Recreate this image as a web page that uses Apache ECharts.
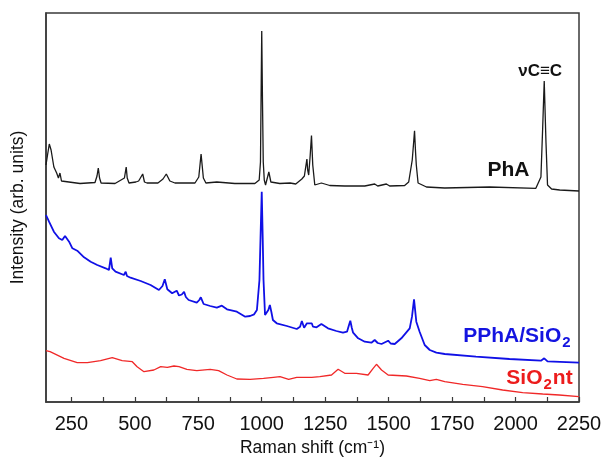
<!DOCTYPE html>
<html>
<head>
<meta charset="utf-8">
<script src="https://cdn.jsdelivr.net/npm/echarts@6/dist/echarts.min.js"></script>
<style>
html,body{margin:0;padding:0;background:#fff;}
#c{width:609px;height:462px;}
</style>
</head>
<body>
<div id="c"></div>
<script>
// Raman shift (cm-1) tick values
const xTickLabels = [250, 500, 750, 1000, 1250, 1500, 1750, 2000, 2250];
const xTickMarks = [250, 375, 500, 625, 750, 875, 1000, 1125, 1250, 1375, 1500, 1625, 1750, 1875, 2000, 2125, 2250];

// PhA spectrum [Raman shift, intensity (arb.)]
const phaData = [[150,237],[156,247],[163,258],[170,252],[181,235],[192,229],[199,224],[205,229],[211,221],[217,219],[284,218.5],[343,219.5],[351,226],[356,234],[361,224],[367,219],[422,218.5],[459,224],[466,235],[470,224],[477,219],[504,220],[515,221],[522,220],[531,228],[538,220],[548,219],[591,219],[611,223],[624,228],[638,221],[658,219],[737,219],[752,225],[761,248],[770,224],[780,219],[823,220],[894,218.5],[973,218.5],[990,222],[995,240],[998,320],[1000,371],[1003,300],[1006,240],[1010,222],[1015,217],[1028,230],[1036,220],[1040,218],[1071,218.5],[1112,219],[1134,218],[1158,223],[1168,226],[1178,243],[1181,232],[1185,227],[1191,247],[1196,266.5],[1201,237],[1209,217],[1235,219],[1268,216.5],[1327,216],[1406,216],[1445,218],[1457,216],[1491,218],[1504,216],[1563,216.5],[1579,220],[1593,242],[1598,258],[1602,271.3],[1606,250],[1609,237],[1616,219],[1649,215],[1721,214],[1898,215],[2080,213.7],[2087,215],[2100,225],[2107,275],[2113,321],[2120,259],[2126,217],[2142,213],[2174,212],[2250,211]];

// PPhA/SiO2 spectrum
const pphaData = [[150,187],[162,180.3],[181,170.3],[201,163.7],[214,162],[225,166],[231,167.7],[241,160.3],[254,153.7],[273,151.3],[300,144.7],[326,140.3],[352,137],[385,133.7],[398,132],[405,144.3],[411,133.7],[424,130.3],[457,127],[464,130.3],[469,126],[483,124.3],[523,121],[562,117],[595,112],[609,116],[618,122.7],[628,112.7],[647,108.7],[665,111.3],[674,106.5],[685,107.5],[694,110.3],[701,105],[712,102],[744,99.3],[754,102],[760,104.7],[771,98],[797,96],[823,94.3],[843,96.3],[863,92.7],[902,90.3],[935,85.3],[954,86],[970,87.7],[981,92],[991,122],[996,172],[1000,210.3],[1004,162],[1007,122],[1013,87],[1020,86],[1026,92],[1032,97],[1038,90],[1044,82],[1059,78.7],[1099,76],[1138,73],[1151,75.3],[1158,81],[1167,74.3],[1178,78.7],[1197,78.7],[1202,75.3],[1216,74.7],[1235,78],[1261,73.7],[1294,71],[1320,69.3],[1336,70.3],[1345,78],[1349,81.3],[1355,74],[1360,69.3],[1380,63.7],[1406,60.3],[1432,59.3],[1445,62],[1457,59],[1472,58],[1498,61.3],[1508,58.5],[1524,58],[1550,63.7],[1583,73.7],[1592,85.3],[1600,102.7],[1609,80.3],[1622,70.3],[1642,57],[1662,52],[1688,49.3],[1721,48],[1844,45.3],[1976,43],[2100,41.3],[2113,43.7],[2126,40.7],[2250,39.3]];

// SiO2nt spectrum
const sio2Data = [[150,51.3],[166,50.3],[221,43.7],[273,39.3],[313,39.3],[365,41.3],[411,44.3],[450,41.3],[490,40.3],[509,35.3],[536,30.3],[575,32],[602,35.3],[628,34.7],[654,36],[674,35.3],[705,32.7],[744,31.3],[797,32.7],[830,31.3],[863,27],[902,23],[954,22.7],[1007,23.7],[1046,24.7],[1072,25.3],[1106,22.7],[1138,24.7],[1197,24.7],[1229,25.3],[1275,27],[1301,32.7],[1327,28.7],[1373,28.7],[1419,27],[1439,33.7],[1452,37.7],[1472,32],[1498,27],[1570,26],[1622,23.7],[1662,21.3],[1688,22.7],[1721,20.3],[1792,17.7],[1870,15.3],[1949,12],[2028,9.3],[2107,8],[2172,7],[2250,5.3]];

const FONT = 'Liberation Sans, Arial, sans-serif';
const AX = '#3a3a3a';

const chart = echarts.init(document.getElementById('c'), null, {renderer: 'canvas'});
chart.setOption({
  animation: false,
  backgroundColor: '#fff',
  grid: {left: 46, right: 30, top: 13, bottom: 60, show: true, borderColor: AX, borderWidth: 1.5, backgroundColor: 'transparent'},
  xAxis: {
    type: 'value', min: 150, max: 2250,
    axisLine: {show: true, onZero: false, lineStyle: {color: AX, width: 1.5}},
    axisTick: {show: true, customValues: xTickMarks, inside: true, length: 5, lineStyle: {color: AX, width: 1.2}},
    axisLabel: {customValues: xTickLabels, formatter: function (v) { return String(v); }, fontSize: 20, color: '#111', margin: 12, fontFamily: FONT},
    splitLine: {show: false},
    name: 'Raman shift (cm\u207B\u00B9)', nameLocation: 'middle', nameGap: 37,
    nameTextStyle: {fontSize: 17.5, color: '#111', fontFamily: FONT}
  },
  yAxis: {
    type: 'value', min: 0, max: 389,
    axisLine: {show: true, lineStyle: {color: AX, width: 1.5}},
    axisTick: {show: false}, axisLabel: {show: false}, splitLine: {show: false},
    name: 'Intensity (arb. units)', nameLocation: 'middle', nameGap: 19,
    nameTextStyle: {fontSize: 17.5, color: '#111', fontFamily: FONT}
  },
  series: [
    {
      type: 'line', data: phaData, showSymbol: false, symbol: 'none',
      lineStyle: {color: '#1a1a1a', width: 1.3},
      markPoint: {
        symbol: 'circle', symbolSize: 0, silent: true,
        data: [
          {coord: [2055, 232], label: {show: true, position: 'left', distance: 0, formatter: 'PhA', fontSize: 21, fontWeight: 'bold', color: '#111', fontFamily: FONT}},
          {coord: [2097, 331], label: {show: true, position: 'inside', formatter: '\u03BDC\u2261C', fontSize: 17, fontWeight: 'bold', color: '#111', fontFamily: FONT}}
        ]
      }
    },
    {
      type: 'line', data: pphaData, showSymbol: false, symbol: 'none',
      lineStyle: {color: '#1010e6', width: 1.8},
      markPoint: {
        symbol: 'circle', symbolSize: 0, silent: true,
        data: [
          {coord: [2217, 66], label: {show: true, position: 'left', distance: 0, formatter: '{a|PPhA/SiO}{b|2}',
            rich: {a: {fontSize: 21, fontWeight: 'bold', color: '#1414e0', fontFamily: FONT},
                   b: {fontSize: 15, fontWeight: 'bold', color: '#1414e0', fontFamily: FONT, padding: [14, 0, 0, 1]}}}}
        ]
      }
    },
    {
      type: 'line', data: sio2Data, showSymbol: false, symbol: 'none',
      lineStyle: {color: '#f02828', width: 1.3},
      markPoint: {
        symbol: 'circle', symbolSize: 0, silent: true,
        data: [
          {coord: [2225, 24], label: {show: true, position: 'left', distance: 0, formatter: '{a|SiO}{b|2}{a|nt}',
            rich: {a: {fontSize: 21, fontWeight: 'bold', color: '#ec1c1c', fontFamily: FONT},
                   b: {fontSize: 15, fontWeight: 'bold', color: '#ec1c1c', fontFamily: FONT, padding: [14, 1, 0, 1]}}}}
        ]
      }
    }
  ]
});
</script>
</body>
</html>
